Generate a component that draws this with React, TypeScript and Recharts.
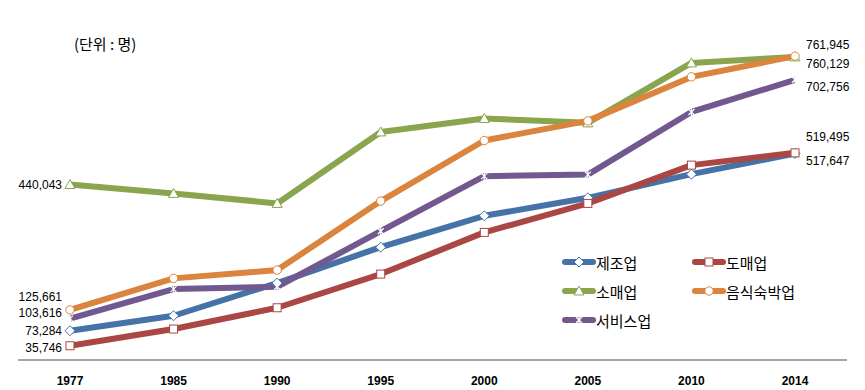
import { LineChart, Line, XAxis, YAxis, Legend, LabelList } from 'recharts';

const years = ['1977', '1985', '1990', '1995', '2000', '2005', '2010', '2014'];
const manufacturing = [73284, 111000, 193000, 283000, 361600, 406700, 466000, 517647];
const wholesale = [35746, 77700, 131000, 215500, 320000, 392700, 488700, 519495];
const retail = [440043, 417800, 392700, 572000, 605700, 594700, 745000, 760129];
const lodging = [125661, 204700, 225500, 398500, 550500, 599700, 710000, 761945];
const services = [103616, 177900, 183700, 323000, 461000, 465000, 622000, 702756];

type Shape = 'diamond' | 'square' | 'triangle' | 'circle' | 'star';

const SERIES: { key: string; name: string; color: string; shape: Shape; left: number; right: number }[] = [
  { key: 'manufacturing', name: '제조업', color: '#4572A7', shape: 'diamond', left: 0, right: 7 },
  { key: 'wholesale', name: '도매업', color: '#AA4643', shape: 'square', left: 2, right: -16 },
  { key: 'retail', name: '소매업', color: '#89A54E', shape: 'triangle', left: 0, right: 7 },
  { key: 'lodging', name: '음식숙박업', color: '#DB843D', shape: 'circle', left: -13, right: -11 },
  { key: 'services', name: '서비스업', color: '#71588F', shape: 'star', left: -6, right: 7 },
];

const data = years.map((year, i) => ({
  year,
  manufacturing: manufacturing[i],
  wholesale: wholesale[i],
  retail: retail[i],
  lodging: lodging[i],
  services: services[i],
}));

const fmt = (v: number) => v.toLocaleString('en-US');

const Marker = ({ cx, cy, shape, color }: { cx: number; cy: number; shape: Shape; color: string }) => {
  const stroke = color;
  if (shape === 'diamond')
    return <path d={`M${cx},${cy - 5}L${cx + 5},${cy}L${cx},${cy + 5}L${cx - 5},${cy}Z`} fill="#fff" stroke={stroke} strokeWidth={1} />;
  if (shape === 'square')
    return <rect x={cx - 4} y={cy - 4} width={8} height={8} fill="#fff" stroke={stroke} strokeWidth={1} />;
  if (shape === 'triangle')
    return <path d={`M${cx},${cy - 5}L${cx + 5},${cy + 4}L${cx - 5},${cy + 4}Z`} fill="#fff" stroke={stroke} strokeWidth={1} />;
  if (shape === 'circle')
    return <circle cx={cx} cy={cy} r={4.2} fill="#fff" stroke={stroke} strokeWidth={1} />;
  return (
    <path
      d={`M${cx - 3},${cy - 3}L${cx + 3},${cy + 3}M${cx + 3},${cy - 3}L${cx - 3},${cy + 3}M${cx},${cy - 4}L${cx},${cy + 4}`}
      stroke="#fff"
      strokeWidth={1.2}
    />
  );
};

const LegendContent = () => (
  <div style={{ display: 'grid', gridTemplateColumns: '130px 140px', rowGap: 7, fontFamily: '"Noto Sans CJK KR", sans-serif', fontSize: 15 }}>
    {SERIES.map((s) => (
      <div key={s.key} style={{ display: 'flex', alignItems: 'center', height: 22 }}>
        <svg width={34} height={12}>
          <line x1={3} y1={6} x2={31} y2={6} stroke={s.color} strokeWidth={6} strokeLinecap="round" />
          <Marker cx={17} cy={6} shape={s.shape} color={s.color} />
        </svg>
        <span style={{ color: '#000' }}>{s.name}</span>
      </div>
    ))}
  </div>
);

export default function App() {
  return (
    <div style={{ position: 'relative', width: 865, height: 390, background: '#fff' }}>
      <style>{'body{margin:0}'}</style>
      <div
        style={{
          position: 'absolute',
          left: 74,
          top: 33,
          fontFamily: '"Noto Sans CJK KR", sans-serif',
          fontSize: 15,
          color: '#000',
          zIndex: 1,
        }}
      >
        (단위 : 명)
      </div>
      <LineChart width={865} height={390} data={data} margin={{ top: 41, right: 18, bottom: 0, left: 18 }}>
        <XAxis
          dataKey="year"
          height={30}
          padding={{ left: 52, right: 52 }}
          tickLine={false}
          axisLine={{ stroke: '#888', strokeWidth: 1.5 }}
          tick={{ fill: '#000', fontSize: 12, fontWeight: 600, fontFamily: '"Liberation Sans", sans-serif' }}
          tickMargin={10}
          interval={0}
        />
        <YAxis hide domain={[0, 800000]} />
        <Legend
          layout="horizontal"
          verticalAlign="middle"
          align="center"
          wrapperStyle={{ left: 562, top: 251, width: 290 }}
          content={<LegendContent />}
        />
        {SERIES.map((s) => (
          <Line
            key={s.key}
            dataKey={s.key}
            name={s.name}
            stroke={s.color}
            strokeWidth={6}
            strokeLinejoin="round"
            isAnimationActive={false}
            dot={(p: any) => <Marker key={`${s.key}-${p.index}`} cx={p.cx} cy={p.cy} shape={s.shape} color={s.color} />}
            activeDot={false}
          >
            <LabelList
              dataKey={s.key}
              content={(p: any) => {
                if (p.index !== 0 && p.index !== years.length - 1) return null;
                const first = p.index === 0;
                return (
                  <text
                    x={first ? p.x - 8 : p.x + 11}
                    y={p.y + (first ? s.left : s.right)}
                    textAnchor={first ? 'end' : 'start'}
                    dominantBaseline="central"
                    fontSize={12}
                    fontFamily='"Liberation Sans", sans-serif'
                    fill="#000"
                  >
                    {fmt(Number(p.value))}
                  </text>
                );
              }}
            />
          </Line>
        ))}
      </LineChart>
    </div>
  );
}
